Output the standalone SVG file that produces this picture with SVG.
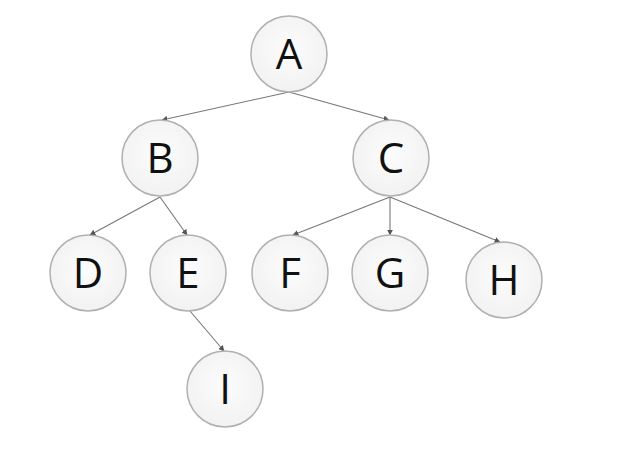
<svg xmlns="http://www.w3.org/2000/svg" width="632" height="470" viewBox="0 0 632 470">
<defs>
<radialGradient id="g" cx="0.5" cy="0.45" r="0.6">
<stop offset="0" stop-color="#fcfcfc"/>
<stop offset="1" stop-color="#f1f1f1"/>
</radialGradient>
<marker id="ar" viewBox="0 0 10 10" refX="9" refY="5" markerWidth="6" markerHeight="6" orient="auto" markerUnits="userSpaceOnUse">
<path d="M0,0 L10,5 L0,10 z" fill="#555"/>
</marker>
<style>
.n circle{fill:url(#g);stroke:#b0b0b0;stroke-width:1.5}
.n text{font-family:"Open Sans","Liberation Sans",sans-serif;font-size:42px;fill:#111;text-anchor:middle}
#edges line{stroke:#777;stroke-width:1.1;marker-end:url(#ar)}
</style>
</defs>
<rect width="632" height="470" fill="#fff"/>
<g id="edges">
<line x1="289" y1="92" x2="162" y2="120"/>
<line x1="289" y1="92" x2="389" y2="120"/>
<line x1="160" y1="197" x2="90" y2="235"/>
<line x1="160" y1="197" x2="187" y2="235"/>
<line x1="390" y1="197" x2="293" y2="235"/>
<line x1="390" y1="197" x2="390" y2="235"/>
<line x1="390" y1="197" x2="500" y2="242"/>
<line x1="190" y1="311" x2="224" y2="351"/>
</g>
<g id="A" class="n"><circle cx="289" cy="54" r="38"/><text x="289" y="69">A</text></g>
<g id="B" class="n"><circle cx="160" cy="158" r="38"/><text x="160" y="173">B</text></g>
<g id="C" class="n"><circle cx="391" cy="158" r="38"/><text x="391" y="173">C</text></g>
<g id="D" class="n"><circle cx="88" cy="273" r="38"/><text x="88" y="288">D</text></g>
<g id="E" class="n"><circle cx="188" cy="273" r="38"/><text x="188" y="288">E</text></g>
<g id="F" class="n"><circle cx="290" cy="273" r="38"/><text x="290" y="288">F</text></g>
<g id="G" class="n"><circle cx="390" cy="273" r="38"/><text x="390" y="288">G</text></g>
<g id="H" class="n"><circle cx="504" cy="280" r="38"/><text x="504" y="295">H</text></g>
<g id="I" class="n"><circle cx="225" cy="389" r="38"/><text x="225" y="404">I</text></g>
</svg>
